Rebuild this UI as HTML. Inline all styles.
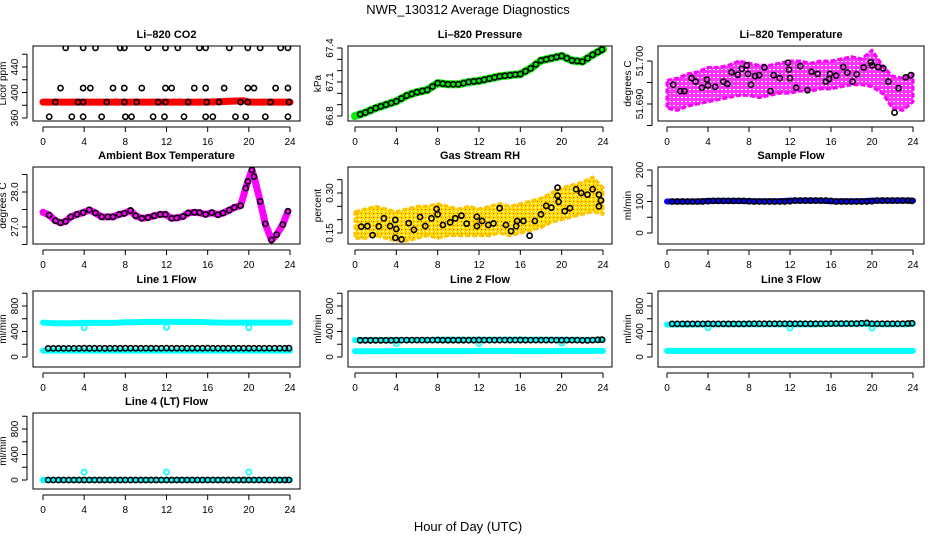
<!DOCTYPE html>
<html><head><meta charset="utf-8">
<style>
html,body{margin:0;padding:0;background:#fff;}
svg{display:block;font-family:"Liberation Sans",sans-serif;}
</style></head>
<body>
<svg id="chart" width="936" height="540" viewBox="0 0 936 540" xmlns="http://www.w3.org/2000/svg">
<rect width="936" height="540" fill="#fff"/>
<text x="468" y="14" text-anchor="middle" font-size="13">NWR_130312  Average Diagnostics</text>
<text x="468" y="531" text-anchor="middle" font-size="13">Hour of Day (UTC)</text>
</svg>
<script>
// ---------- data ----------
const xTicks = [0,4,8,12,16,20,24];
// CO2
const co2HiX = [2.2,3.9,5.1,7.5,7.9,10.2,11.9,13.1,15.2,15.8,18.1,19.9,21.1,23.1,23.8];
const co2MidX = [1.7,3.9,4.6,6.8,7.9,9.6,11.9,12.5,14.7,15.8,17.6,19.9,20.5,22.6,23.8];
const co2LowX = [1.2,3.4,3.9,6.2,7.9,9.1,11.2,11.9,14.1,15.9,17.1,19.2,19.9,22.1,23.9];
const co2BotX = [0.6,2.8,3.9,5.7,8.0,8.6,10.7,11.8,13.7,15.8,16.5,18.7,19.7,21.6,23.8];
const co2Levels = [470,407,385,362];
const co2RedHours = [0,4,8,12,16,19.5,20,24];
const co2RedVals = [385,385,385,385,385,387,385,385];
// Pressure (hourly)
const hours = [0,1,2,3,4,5,6,7,8,9,10,11,12,13,14,15,16,17,18,19,20,21,22,23,24];
const pressVals = [66.80,66.83,66.87,66.90,66.93,66.98,67.01,67.03,67.09,67.08,67.08,67.10,67.11,67.13,67.15,67.16,67.17,67.22,67.29,67.31,67.33,67.29,67.28,67.34,67.39];
// Li-820 temperature cloud
const tempLo = [51.6890,51.6885,51.6895,51.6900,51.6905,51.6910,51.6915,51.6920,51.6920,51.6915,51.6920,51.6925,51.6925,51.6930,51.6930,51.6935,51.6935,51.6940,51.6945,51.6945,51.6940,51.6925,51.6890,51.6885,51.6905];
const tempHi = [51.6955,51.6960,51.6970,51.6975,51.6985,51.6985,51.6990,51.7000,51.6995,51.6990,51.6990,51.6995,51.7000,51.7000,51.6995,51.7000,51.7000,51.7005,51.7010,51.7005,51.7025,51.6990,51.6965,51.6960,51.6970];
const tempPtX = [0.6,1.3,1.7,2.4,2.8,3.4,3.9,4.0,4.7,5.5,5.9,6.3,6.9,7.3,7.8,7.9,8.2,8.6,9.0,9.5,10.1,10.4,11.0,11.8,11.9,12.0,12.6,13.0,13.7,14.1,14.7,15.5,15.8,15.9,16.5,17.2,17.6,18.1,18.5,19.2,19.9,20.0,20.6,21.1,21.6,22.2,22.6,23.3,23.8];
const tempPtY = [51.6945,51.6930,51.6930,51.6960,51.6952,51.6938,51.6957,51.6943,51.6940,51.6952,51.6947,51.6974,51.6968,51.6982,51.6990,51.6970,51.6945,51.6965,51.6967,51.6985,51.6930,51.6967,51.6960,51.6996,51.6980,51.6960,51.6938,51.6988,51.6932,51.6975,51.6970,51.6952,51.6958,51.6970,51.6966,51.6986,51.6973,51.6952,51.6969,51.6985,51.6997,51.6990,51.6986,51.6983,51.6952,51.6880,51.6937,51.6962,51.6967];
// Ambient box temperature
const ambX = [0,0.6,1.2,1.7,2.2,2.7,3.3,3.9,4.5,5.1,5.7,6.3,6.8,7.4,7.9,8.5,9.0,9.6,10.2,10.8,11.4,11.9,12.5,13.0,13.6,14.1,14.7,15.2,15.8,16.4,17.0,17.5,18.1,18.6,19.2,19.7,19.9,20.3,20.5,21.1,21.6,22.2,22.7,23.3,23.8];
const ambY = [27.42,27.34,27.18,27.12,27.16,27.29,27.36,27.41,27.49,27.40,27.29,27.29,27.29,27.36,27.39,27.47,27.32,27.25,27.27,27.32,27.36,27.36,27.25,27.26,27.30,27.40,27.42,27.41,27.36,27.41,27.35,27.40,27.48,27.56,27.61,28.11,28.30,28.63,28.44,27.73,27.09,26.63,26.78,27.07,27.45];
// Gas stream RH
const rhLo = [0.13,0.13,0.14,0.13,0.12,0.12,0.13,0.14,0.13,0.14,0.14,0.14,0.14,0.14,0.15,0.14,0.15,0.16,0.17,0.19,0.20,0.21,0.22,0.23,0.22];
const rhHi = [0.23,0.24,0.25,0.24,0.23,0.24,0.25,0.25,0.26,0.25,0.24,0.25,0.24,0.25,0.26,0.25,0.26,0.27,0.28,0.30,0.32,0.33,0.34,0.36,0.32];
const rhPtX = [0.6,1.2,1.7,2.3,2.8,3.4,3.9,4.0,3.9,4.5,5.2,5.7,6.3,6.8,7.4,7.9,8.0,8.5,9.2,9.7,10.3,10.8,11.8,11.8,12.3,12.9,13.4,14.0,14.6,15.1,15.6,15.7,16.3,16.9,17.4,18.0,18.5,19.0,19.6,19.6,19.7,20.3,20.8,21.4,21.9,22.5,23.0,23.6,23.6,23.8];
const rhPtY = [0.174,0.176,0.142,0.175,0.205,0.176,0.199,0.165,0.132,0.126,0.187,0.162,0.210,0.176,0.205,0.240,0.220,0.180,0.190,0.205,0.215,0.185,0.176,0.211,0.195,0.180,0.186,0.243,0.180,0.157,0.176,0.195,0.195,0.140,0.195,0.220,0.252,0.245,0.320,0.290,0.267,0.232,0.243,0.314,0.300,0.294,0.314,0.294,0.250,0.272];
// flows: black circle times (half-hourly)
const flowX = [0.5,1,1.5,2,2.5,3,3.5,4,4.5,5,5.5,6,6.5,7,7.5,8,8.5,9,9.5,10,10.5,11,11.5,12,12.5,13,13.5,14,14.5,15,15.5,16,16.5,17,17.5,18,18.5,19,19.5,20,20.5,21,21.5,22,22.5,23,23.5,23.9];
const sampleVals = [100,100,100,100,100,100,100,101,102,102,102,102,102,102,102,101,100,100,100,100,100,100,100,101,103,103,103,103,103,103,103,102,100,100,100,100,100,100,100,101,103,103,103,103,103,103,103,102];
const line1Vals = [135,135,135,135,135,135,136,138,136,136,136,136,136,136,136,138,137,137,137,137,137,137,137,139,137,137,137,137,137,137,137,139,137,137,137,137,137,137,137,137,137,137,137,137,137,137,137,138];
const line2Vals = [262,262,262,262,262,262,262,264,265,265,265,265,265,265,265,266,264,264,264,264,264,264,264,266,265,265,265,265,265,265,265,266,265,265,265,265,265,265,265,264,265,265,265,262,262,265,270,272];
const line3Vals = [520,520,520,520,520,520,520,522,520,520,520,520,520,520,520,522,522,522,522,522,522,522,522,522,522,522,522,522,522,522,522,524,524,524,524,524,524,530,534,522,522,522,522,522,522,522,525,530];
const line4Vals = [0,0,0,0,0,0,0,0,0,0,0,0,0,0,0,0,0,0,0,0,0,0,0,0,0,0,0,0,0,0,0,0,0,0,0,0,0,0,0,0,0,0,0,0,0,0,0,0];
// cyan bands (hourly)
const blueBand = [100,100,100,100,102,102,102,102,101,101,101,101,103,103,103,103,101,101,101,101,103,103,103,103,103];
const line1Hi = [540,530,530,530,535,535,535,535,545,545,550,550,550,550,550,550,545,540,540,540,540,540,540,540,540];
const line1Lo = [100,100,100,100,100,100,100,100,100,100,100,100,100,100,100,100,100,100,100,100,100,100,100,100,100];
const line2Hi = [265,265,265,265,265,265,265,265,270,270,270,270,270,270,270,270,270,270,270,270,268,268,268,268,268];
const line2Lo = [90,90,90,90,92,92,92,92,92,92,92,92,95,95,95,95,92,92,92,92,95,95,95,95,95];
const line3Hi = [510,510,510,510,515,515,515,515,515,515,515,515,515,515,515,515,520,520,520,520,515,515,515,515,520];
const line3Lo = [95,95,95,95,95,95,95,95,95,95,95,95,95,95,95,95,95,95,95,95,95,95,95,95,95];
const line4Band = [0,0,0,0,0,0,0,0,0,0,0,0,0,0,0,0,0,0,0,0,0,0,0,0,0];
const dipX = [4,12,20];
const line1Dips = [460,465,460];
const line2Dips = [210,210,220];
const line3Dips = [460,455,455];
const line4Dips = [125,125,125];

// ---------- layout ----------
const NS = "http://www.w3.org/2000/svg";
const svg = document.getElementById('chart');
const cols = [{L:33,R:300,x0:43,x24:290},{L:348,R:612,x0:355,x24:603},{L:658,R:924,x0:667,x24:913}];
const rows = [{T:46,B:121},{T:167,B:244},{T:291,B:367},{T:413,B:489}];
function mk(tag, attrs, parent){
  const e = document.createElementNS(NS, tag);
  for (const k in attrs) e.setAttribute(k, attrs[k]);
  (parent||svg).appendChild(e);
  return e;
}
function makePanel(ci, ri, title, ytitle, v1, p1, v2, p2, ticks, labels){
  const c = cols[ci], r = rows[ri];
  const g = mk('g', {});
  
  
  const xs = h => c.x0 + (h/24)*(c.x24-c.x0);
  const ys = v => p1 + (v - v1)*(p2-p1)/(v2-v1);
  const clip = mk('clipPath', {id:'clip'+ci+ri}, g);
  mk('rect', {x:c.L, y:r.T, width:c.R-c.L, height:r.B-r.T}, clip);
  const plot = mk('g', {'clip-path':'url(#clip'+ci+ri+')'}, g);
  
  
  const box = mk('rect', {x:c.L, y:r.T, width:c.R-c.L, height:r.B-r.T, fill:'none', stroke:'#000', 'stroke-width':1}, g);
  
  
  const t = mk('text', {x:(c.L+c.R)/2, y:r.T-8, 'text-anchor':'middle', 'font-size':11, 'font-weight':'bold'}, g);
  t.textContent = title;
  
  
  const xa = mk('g', {}, g);
  
  
  mk('line', {x1:xs(0), x2:xs(24), y1:r.B+6, y2:r.B+6, stroke:'#000'}, xa);
  xTicks.forEach(h => {
    mk('line', {x1:xs(h), x2:xs(h), y1:r.B+6, y2:r.B+11, stroke:'#000'}, xa);
    const tl = mk('text', {x:xs(h), y:r.B+24, 'text-anchor':'middle', 'font-size':10}, xa);
    tl.textContent = h;
    
    
  });
  const ya = mk('g', {}, g);
  
  
  const ax = c.L - 6;
  mk('line', {x1:ax, x2:ax, y1:ys(ticks[0]), y2:ys(ticks[ticks.length-1]), stroke:'#000'}, ya);
  ticks.forEach(v => mk('line', {x1:ax-5, x2:ax, y1:ys(v), y2:ys(v), stroke:'#000'}, ya));
  labels.forEach(lb => {
    const yy = ys(lb.v);
    const tl = mk('text', {x:ax-9, y:yy, 'text-anchor':'middle', 'font-size':10, transform:`rotate(-90 ${ax-9} ${yy})`}, ya);
    tl.textContent = lb.s;
    
    
  });
  const yt = mk('text', {x:ax-21, y:(r.T+r.B)/2, 'text-anchor':'middle', 'font-size':10, transform:`rotate(-90 ${ax-21} ${(r.T+r.B)/2})`}, g);
  yt.textContent = ytitle;
  
  
  return {plot, xs, ys};
}
function circles(p, X, Y, color, name, rad, sw){
  X.forEach((h,i) => {
    const el = mk('circle', {cx:p.xs(h), cy:p.ys(Y[i]), r:rad||2.6, fill:'none', stroke:color, 'stroke-width':sw||1.6}, p.plot);
    
    
  });
}
function band(p, X, Y, color, w, name){
  const d = X.map((h,i)=>(i?'L':'M')+p.xs(h).toFixed(1)+' '+p.ys(Y[i]).toFixed(1)).join(' ');
  const el = mk('path', {d, fill:'none', stroke:color, 'stroke-width':w, 'stroke-linejoin':'round', 'stroke-linecap':'round'}, p.plot);
  
  
}
function area(p, X, lo, hi, color, name, pattern){
  let d = X.map((h,i)=>(i?'L':'M')+p.xs(h).toFixed(1)+' '+p.ys(hi[i]).toFixed(1)).join(' ');
  for (let i=X.length-1;i>=0;i--) d += ' L'+p.xs(X[i]).toFixed(1)+' '+p.ys(lo[i]).toFixed(1);
  const el = mk('path', {d:d+' Z', fill:pattern||color, stroke:color, 'stroke-width':3, 'stroke-linejoin':'round', 'stroke-dasharray':'5 2'}, p.plot);
  
  
}
const defs = mk('defs', {});
const pat = mk('pattern', {id:'rhPat', width:4, height:4, patternUnits:'userSpaceOnUse'}, defs);
mk('rect', {width:4, height:4, fill:'#ffe000'}, pat);
mk('rect', {x:1, y:1, width:1, height:1, fill:'#ff3000'}, pat);
mk('rect', {x:3, y:3, width:1, height:1, fill:'#ffffff'}, pat);
const patT = mk('pattern', {id:'tPat', width:4, height:4, patternUnits:'userSpaceOnUse'}, defs);
mk('rect', {width:4, height:4, fill:'#ff33ff'}, patT);
mk('rect', {x:1, y:1, width:2, height:1, fill:'#ffffff'}, patT);

// CO2
let p = makePanel(0,0,'Li–820 CO2','Licor ppm',360,118,440,67,[360,380,400,420,440,460],[{v:360,s:'360'},{v:400,s:'400'},{v:440,s:'440'}]);
band(p, co2RedHours, co2RedVals, '#ff0000', 7, 'co2-red-series');
[co2HiX,co2MidX,co2LowX,co2BotX].forEach((arr,k)=>circles(p, arr, arr.map(()=>co2Levels[k]), '#000', 'co2-point'));
// Pressure
p = makePanel(1,0,'Li–820 Pressure','kPa',66.8,116,67.4,48,[66.8,66.9,67.0,67.1,67.2,67.3,67.4],[{v:66.8,s:'66.8'},{v:67.1,s:'67.1'},{v:67.4,s:'67.4'}]);
band(p, hours, pressVals, '#00ee00', 8, 'pressure-green-series');
circles(p, flowX, flowX.map(h=>{const i=Math.min(23,Math.floor(h));const f=h-i;return pressVals[i]*(1-f)+pressVals[i+1]*f;}), '#000', 'pressure-point');
// Temperature
p = makePanel(2,0,'Li–820 Temperature','degrees C',51.690,104,51.700,61,[51.685,51.690,51.695,51.700],[{v:51.690,s:'51.690'},{v:51.700,s:'51.700'}]);
area(p, hours, tempLo, tempHi, '#ff00ff', 'temperature-magenta-cloud', 'url(#tPat)');
circles(p, tempPtX, tempPtY, '#000', 'temperature-point');
// Ambient
p = makePanel(0,1,'Ambient Box Temperature','degrees C',27,227,28,192,[26.5,27.0,27.5,28.0,28.5],[{v:27.0,s:'27.0'},{v:28.0,s:'28.0'}]);
band(p, ambX, ambY, '#ff00ff', 7, 'ambient-magenta-series');
circles(p, ambX.slice(1), ambY.slice(1), '#000', 'ambient-point');
// RH
p = makePanel(1,1,'Gas Stream RH','percent',0.15,233,0.30,193,[0.15,0.20,0.25,0.30,0.35],[{v:0.15,s:'0.15'},{v:0.30,s:'0.30'}]);
area(p, hours, rhLo, rhHi, '#ffc400', 'rh-yellow-cloud', 'url(#rhPat)');
circles(p, rhPtX, rhPtY, '#000', 'rh-point');
// Sample flow
p = makePanel(2,1,'Sample Flow','ml/min',0,233,200,170,[0,50,100,150,200],[{v:0,s:'0'},{v:100,s:'100'},{v:200,s:'200'}]);
band(p, hours, blueBand, '#0000ff', 6, 'sample-blue-series');
circles(p, flowX, sampleVals, '#000', 'sample-point');
// Flow panels
const flowTicks = [0,200,400,600,800,1000];
const flowLabels = [{v:0,s:'0'},{v:400,s:'400'},{v:800,s:'800'}];
p = makePanel(0,2,'Line 1 Flow','ml/min',0,357,800,306,flowTicks,flowLabels);
band(p, hours, line1Hi, '#00ffff', 6, 'line1-cyan-high');
band(p, hours, line1Lo, '#00ffff', 6, 'line1-cyan-low');
circles(p, dipX, line1Dips, '#00ffff', 'line1-cyan-outlier');
circles(p, flowX, line1Vals, '#000', 'line1-point');
p = makePanel(1,2,'Line 2 Flow','ml/min',0,357,800,306,flowTicks,flowLabels);
band(p, hours, line2Hi, '#00ffff', 6, 'line2-cyan-high');
band(p, hours, line2Lo, '#00ffff', 6, 'line2-cyan-low');
circles(p, dipX, line2Dips, '#00ffff', 'line2-cyan-outlier');
circles(p, flowX, line2Vals, '#000', 'line2-point');
p = makePanel(2,2,'Line 3 Flow','ml/min',0,357,800,306,flowTicks,flowLabels);
band(p, hours, line3Hi, '#00ffff', 6, 'line3-cyan-high');
band(p, hours, line3Lo, '#00ffff', 6, 'line3-cyan-low');
circles(p, dipX, line3Dips, '#00ffff', 'line3-cyan-outlier');
circles(p, flowX, line3Vals, '#000', 'line3-point');
p = makePanel(0,3,'Line 4 (LT) Flow','ml/min',0,480,800,429,flowTicks,flowLabels);
band(p, hours, line4Band, '#00ffff', 6, 'line4-cyan-band');
circles(p, dipX, line4Dips, '#00ffff', 'line4-cyan-outlier');
circles(p, flowX, line4Vals, '#000', 'line4-point');
</script>
</body></html>
